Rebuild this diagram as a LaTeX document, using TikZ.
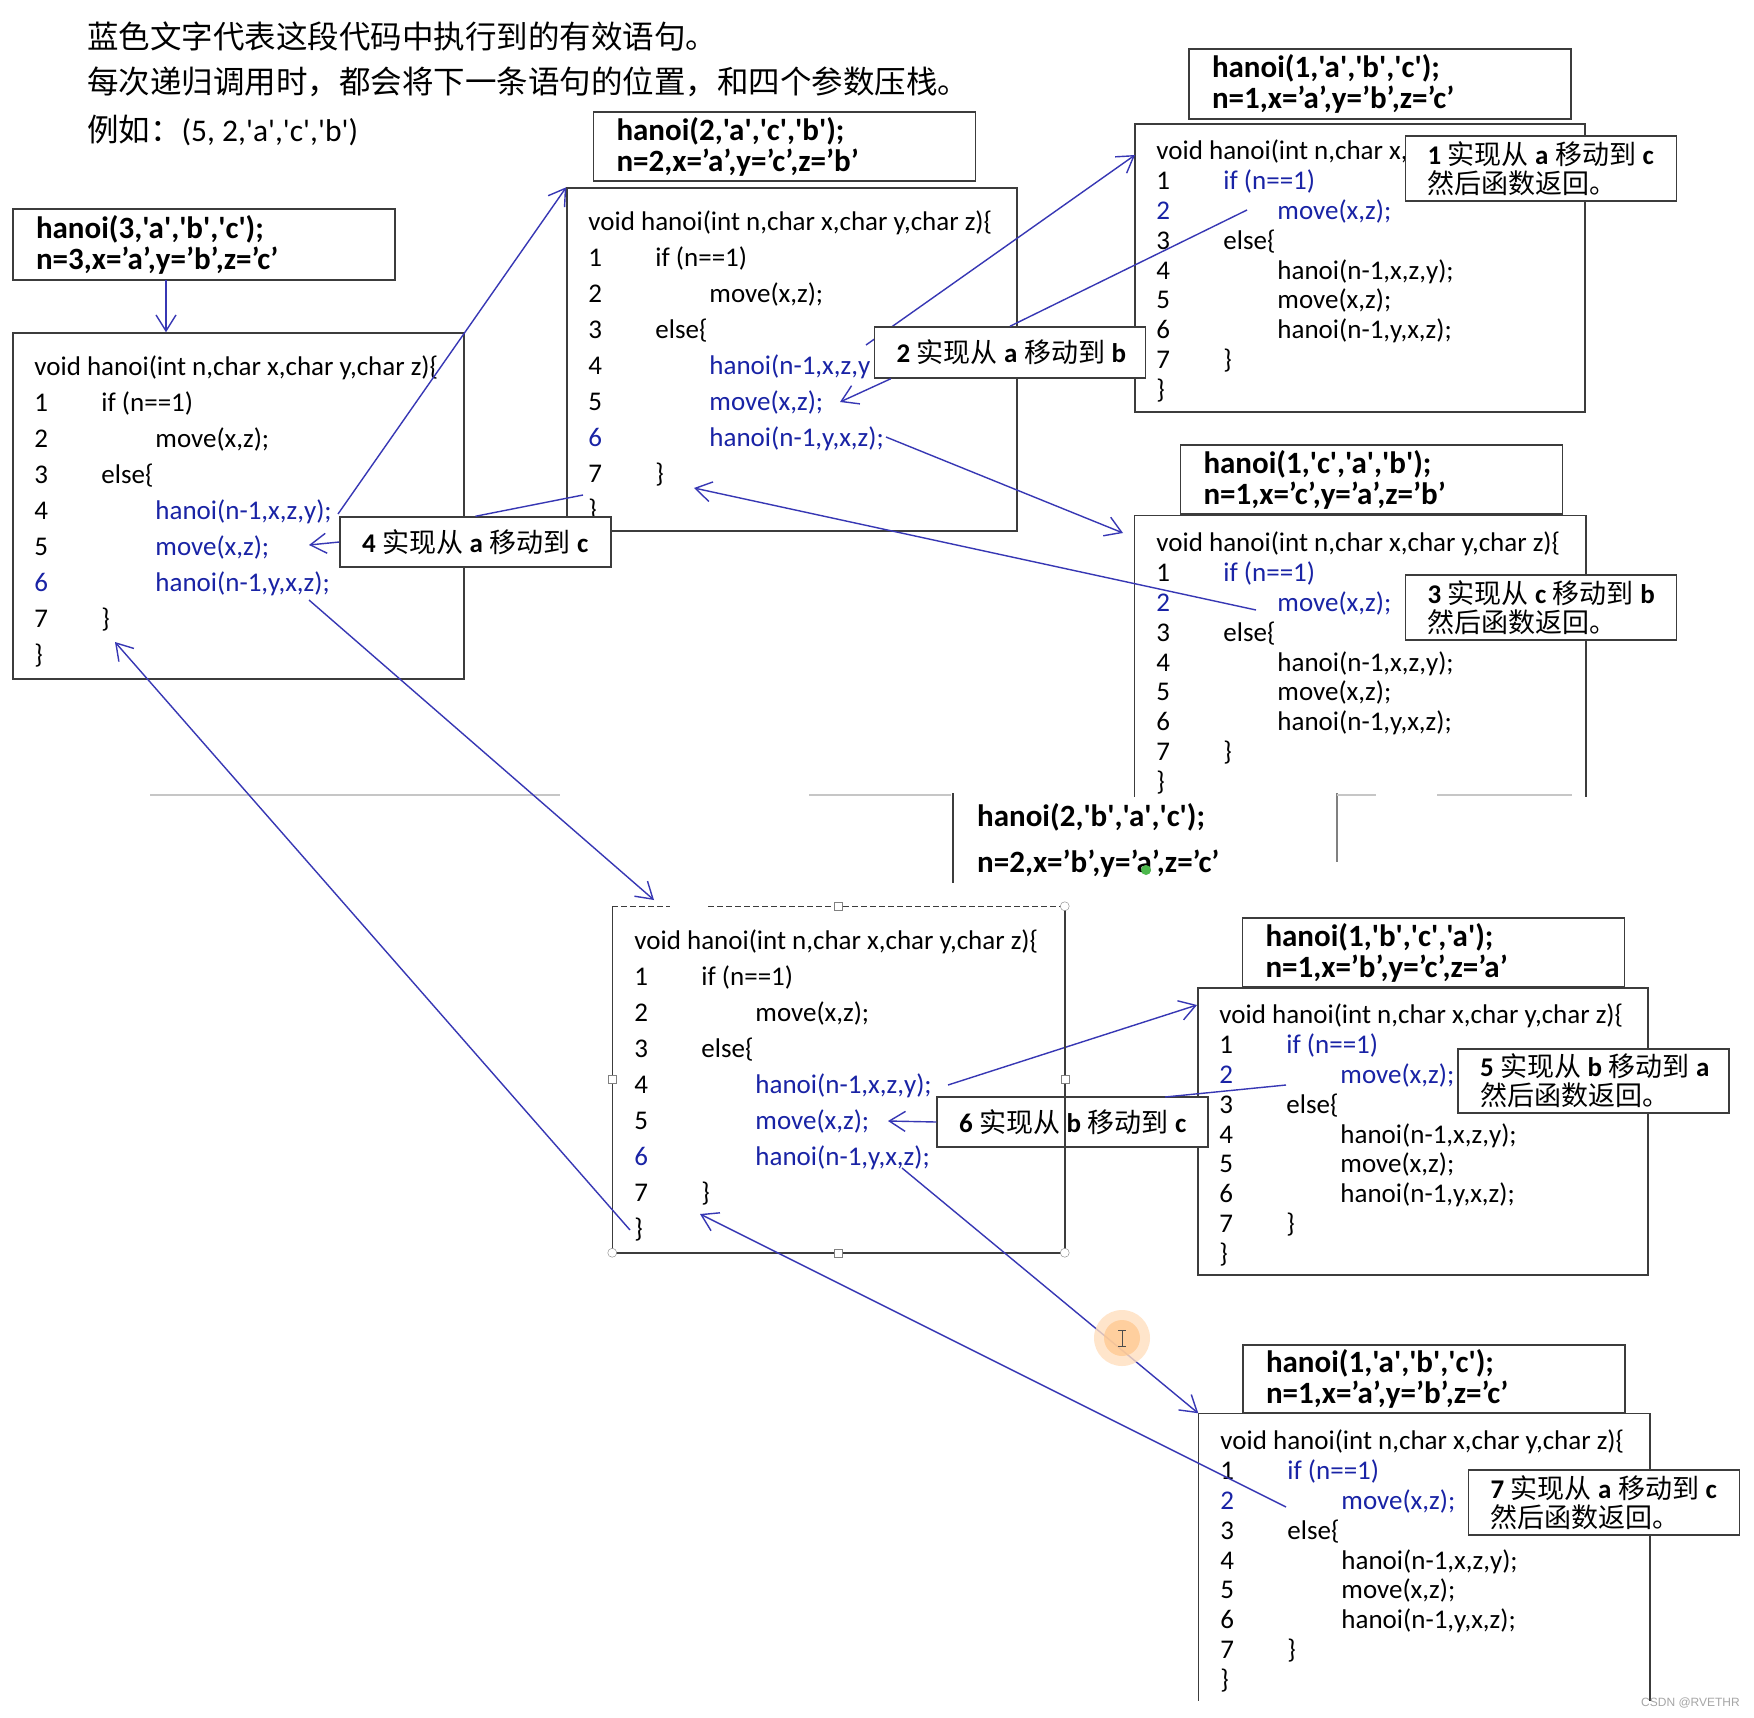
\documentclass[tikz,border=0pt]{standalone}
\usepackage{fontspec}
\setmainfont{Carlito}[Ligatures=TeXOff]
\newfontfamily\cjk{Noto Sans CJK SC}
\newfontfamily\wmfont{Liberation Sans}
\usetikzlibrary{arrows.meta,calc}

\definecolor{codeblue}{RGB}{25,35,165}
\definecolor{linkblue}{RGB}{55,55,180}
\definecolor{boxgray}{RGB}{60,60,60}

\newcommand{\zh}[1]{{\cjk\mdseries #1}}
\newcommand{\bl}[1]{\textcolor{codeblue}{#1}}
\newcommand{\gap}{\nobreak\hspace{6.5pt}\nobreak}
\newcommand{\codeln}[2]{\makebox[67pt][l]{#1}#2}
\newcommand{\deep}{\hspace*{54pt}}
\newcommand{\fullhead}{void hanoi(int n,char x,char y,char z)\{}

% body of hanoi, n>1 frames (#1: what shows of line 4)
\newcommand{\codeouter}[1]{%
  \strut\fullhead\\
  \codeln{1}{if (n==1)}\\
  \codeln{2}{\deep move(x,z);}\\
  \codeln{3}{else\{}\\
  \codeln{4}{\deep\bl{#1}}\\
  \codeln{5}{\deep\bl{move(x,z);}}\\
  \codeln{\bl{6}}{\deep\bl{hanoi(n-1,y,x,z);}}\\
  \codeln{7}{\}}\\
  \}}

% body of hanoi, n=1 frames (#1: what shows of the head line)
\newcommand{\codeleaf}[1]{%
  \strut #1\\
  \codeln{1}{\bl{if (n==1)}}\\
  \codeln{\bl{2}}{\deep\bl{move(x,z);}}\\
  \codeln{3}{else\{}\\
  \codeln{4}{\deep hanoi(n-1,x,z,y);}\\
  \codeln{5}{\deep move(x,z);}\\
  \codeln{6}{\deep hanoi(n-1,y,x,z);}\\
  \codeln{7}{\}}\\
  \}}

\tikzset{
  codebox/.style={draw=boxgray, line width=1.5pt, minimum width=450pt, inner sep=0pt},
  codetext/.style={anchor=north west, inner sep=0pt, align=left},
  callbox/.style={draw=boxgray, line width=1.5pt, fill=white, text width=336pt,
    inner xsep=23pt, inner ysep=0pt, align=left, font=\fontsize{31}{31}\selectfont\bfseries},
  note/.style={draw=boxgray, line width=1.5pt, fill=white, text width=227pt,
    inner xsep=22pt, inner ysep=0pt, align=left, font=\fontsize{27}{29}\selectfont\bfseries},
  link/.style={draw=linkblue, line width=1.4pt},
  arr/.style={link, -{Straight Barb[length=16pt,width=20pt]}},
}

\begin{document}
\begin{tikzpicture}[x=1pt, y=-1pt]
  \useasboundingbox[fill=white] (0,0) rectangle (1754,1717);

  \begin{scope}[every node/.style={anchor=west, inner sep=0pt, font=\fontsize{31.5}{32}\selectfont}]
    \node (t1) at (87,36) {\zh{蓝色文字代表这段代码中执行到的有效语句。}};
    \node (t2) at (87,82) {\zh{每次递归调用时，都会将下一条语句的位置，和四个参数压栈。}};
    \node (t3) at (87,130) {\zh{例如：}(5, 2,'a','c','b')};
  \end{scope}

  % call frames
  \begin{scope}[every node/.style={callbox}]
    \node[minimum height=71pt] (a1) at (204,244.5) {hanoi(3,'a','b','c');\\n=3,x=’a’,y=’b’,z=’c’};
    \node[minimum height=69pt] (a2) at (784.5,146.5) {hanoi(2,'a','c','b');\\n=2,x=’a’,y=’c’,z=’b’};
    \node[minimum height=70pt] (a3) at (1380,84) {hanoi(1,'a','b','c');\\n=1,x=’a’,y=’b’,z=’c’};
    \node[minimum height=69pt] (a4) at (1371.5,479.5) {hanoi(1,'c','a','b');\\n=1,x=’c’,y=’a’,z=’b’};
    \node[minimum height=69pt] (a6) at (1433.5,952.5) {hanoi(1,'b','c','a');\\n=1,x=’b’,y=’c’,z=’a’};
    \node[minimum height=68pt] (a7) at (1434,1379) {hanoi(1,'a','b','c');\\n=1,x=’a’,y=’b’,z=’c’};
  \end{scope}
  \node[font=\fontsize{31}{46}\selectfont\bfseries, align=left, anchor=west, inner sep=0pt]
    (a5) at (977,840) {hanoi(2,'b','a','c');\\n=2,x=’b’,y=’a’,z=’c’};
  \draw[boxgray, line width=1.5pt] (953,793) -- (953,883);
  \draw[gray, line width=1.5pt] (1337,793) -- (1337,862);
  \draw[gray!45, line width=1.5pt] (150,795) -- (560,795) (809,795) -- (951,795)
    (1337,795) -- (1376,795) (1437,795) -- (1572,795);

  % code frames
  \begin{scope}[every node/.style={codebox}]
    \node[minimum height=346pt, minimum width=451pt] (c1) at (238.5,506) {};
    \node[minimum height=343pt] (c2) at (792,359.5) {};
    \node[minimum height=288pt] (c3) at (1360,268) {};
    \node[minimum height=280pt, draw=none] (c4) at (1360,656) {};
    \node[minimum height=345pt, minimum width=451pt, draw=none] (c5) at (838.5,1079.5) {};
    \node[minimum height=287pt] (c6) at (1423,1131.5) {};
    \node[minimum height=286pt, draw=none] (c7) at (1424,1557) {};
  \end{scope}
  \draw[boxgray, line width=1.5pt] (c4.south west) |- (c4.north east) -- (c4.south east);
  \draw[boxgray, line width=1.5pt] (c7.south west) |- (c7.north east) -- (c7.south east);
  \draw[boxgray, line width=1.5pt] (c5.north west) |- (c5.south east) -- (c5.north east);
  \draw[boxgray, line width=1.5pt, dash pattern=on 6pt off 3pt]
    (c5.north west) -- ++(58,0) ++(38,0) -- (c5.north east);

  \begin{scope}[every node/.style={codetext, font=\fontsize{27}{36}\selectfont}]
    \node (c1t) at ($(c1.north west)+(22,17.5)$) {\codeouter{hanoi(n-1,x,z,y);}};
    \node (c2t) at ($(c2.north west)+(22,17.5)$) {\codeouter{hanoi(n-1,x,z,y}};
    \node (c5t) at ($(c5.north west)+(22,17.5)$) {\codeouter{hanoi(n-1,x,z,y);}};
  \end{scope}
  \begin{scope}[every node/.style={codetext, font=\fontsize{27}{29.8}\selectfont}]
    \node (c3t) at ($(c3.north west)+(22,15.5)$) {\codeleaf{void hanoi(int n,char x,}};
    \node (c4t) at ($(c4.north west)+(22,15.5)$) {\codeleaf{\fullhead}};
    \node (c6t) at ($(c6.north west)+(22,15.5)$) {\codeleaf{\fullhead}};
    \node (c7t) at ($(c7.north west)+(22,15.5)$) {\codeleaf{\fullhead}};
  \end{scope}

  % ends of the calls and returns
  \coordinate (a1-out) at (166,280);
  \coordinate (c1-call1) at (338,514);
  \coordinate (c1-move) at (309,545);
  \coordinate (c1-call2) at (309,600);
  \coordinate (c1-back) at (115,642);
  \coordinate (c2-end) at (583,495);
  \coordinate (c2-call1) at (866,345);
  \coordinate (c2-move) at (840,402);
  \coordinate (c2-call2) at (886,437);
  \coordinate (c2-back) at (694,488);
  \coordinate (c3-in) at (1135,155);
  \coordinate (c3-ret) at (1247,210);
  \coordinate (c4-in) at (1123,533);
  \coordinate (c4-ret) at (1256,610);
  \coordinate (c5-in) at (654,900);
  \coordinate (c5-move) at (888,1121);
  \coordinate (c5-call1) at (948,1085);
  \coordinate (c5-call2) at (902,1168);
  \coordinate (c5-back) at (700,1214);
  \coordinate (c5-end) at (630,1230);
  \coordinate (c6-in) at (1197,1005);
  \coordinate (c6-ret) at (1286,1085);
  \coordinate (c7-ret) at (1286,1507);
  \coordinate (n6-in) at (1165,1097);

  \draw[arr] (a1-out) -- (a1-out |- c1.north);
  \draw[arr] (c1-call1) -- (c2.north west);
  \draw[arr] (c1-call2) -- (c5-in);
  \draw[arr] (c5-end) -- (c1-back);
  \draw[arr] (c2-call1) -- (c3-in);
  \draw[arr] (c2-call2) -- (c4-in);
  \draw[arr] (c4-ret) -- (c2-back);
  \draw[arr] (c5-call1) -- (c6-in);
  \draw[arr] (c5-call2) -- (c7.north west);
  \draw[arr] (c7-ret) -- (c5-back);

  % moves
  \begin{scope}[every node/.style={note}]
    \node[minimum height=65pt] (n1) at (1541,168.5) {1\gap\zh{实现从}\gap a\gap\zh{移动到}\gap c\\\zh{然后函数返回。}};
    \node[minimum height=51pt] (n2) at (1010,352.5) {2\gap\zh{实现从}\gap a\gap\zh{移动到}\gap b};
    \node[minimum height=65pt] (n3) at (1541,607.5) {3\gap\zh{实现从}\gap c\gap\zh{移动到}\gap b\\\zh{然后函数返回。}};
    \node[minimum height=50pt] (n4) at (475.5,542) {4\gap\zh{实现从}\gap a\gap\zh{移动到}\gap c};
    \node[minimum height=64pt] (n5) at (1593.5,1081) {5\gap\zh{实现从}\gap b\gap\zh{移动到}\gap a\\\zh{然后函数返回。}};
    \node[minimum height=50pt] (n6) at (1072.5,1122) {6\gap\zh{实现从}\gap b\gap\zh{移动到}\gap c};
    \node[minimum height=65pt] (n7) at (1604,1502.5) {7\gap\zh{实现从}\gap a\gap\zh{移动到}\gap c\\\zh{然后函数返回。}};
  \end{scope}

  \draw[arr] (n4.west) -- (c1-move);
  \draw[link] (c2-end) -- (n4.north);
  \draw[link] (c3-ret) -- (n2.north);
  \draw[arr] ([xshift=17pt]n2.south west) -- (c2-move);
  \draw[link] (c6-ret) -- (n6-in);
  \draw[arr] (n6.west) -- (c5-move);

  % selected frame
  \draw[boxgray, line width=1.5pt] (c5.north east) -- (c5.south east);
  \foreach \p in {(c5.north), (c5.east), (c5.south), (c5.west)}
    \draw[gray, fill=white] \p ++(-4,-4) rectangle ++(8,8);
  \foreach \p in {(c5.north east), (c5.south east), (c5.south west)}
    \draw[gray, fill=white] \p circle (4.5);

  \fill[green!60!black!70!white] (1146,870) circle (5);
  \fill[orange!25, opacity=.8] (1122,1338) circle (28);
  \fill[orange!45, opacity=.7] (1122,1338) circle (18);
  \draw[black!70, line width=1pt] (1122,1330) -- (1122,1346)
    (1118,1330) -- (1126,1330) (1118,1346) -- (1126,1346);

  \node[font=\wmfont\fontsize{12}{12}\selectfont, text=gray!70, anchor=east, inner sep=0pt]
    (wm) at (1740,1703) {CSDN @RVETHR};
\end{tikzpicture}
\end{document}
